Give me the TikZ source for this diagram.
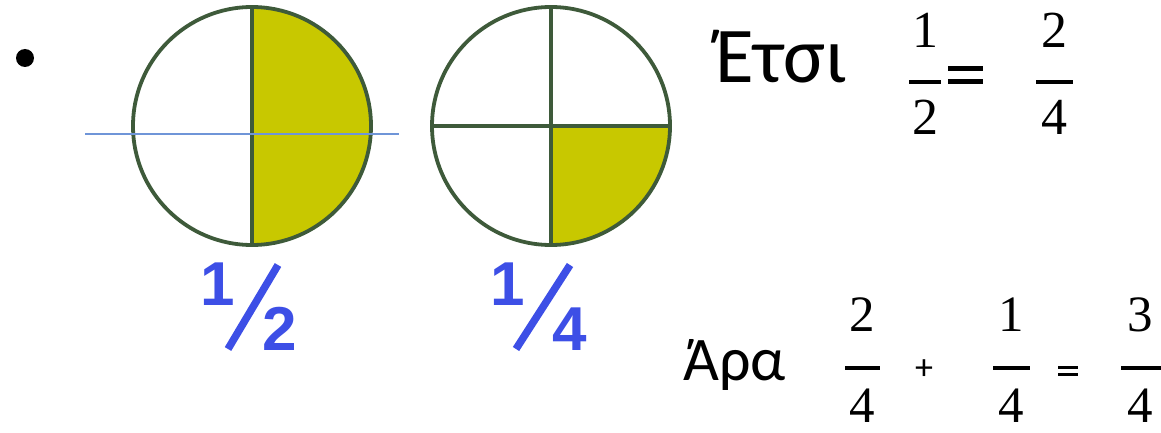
\documentclass[tikz,border=0pt]{standalone}
\usepackage{fontspec}
\newfontfamily\calfont{Carlito}
\newfontfamily\lblfont{Liberation Sans}
\newfontfamily\digfont{Liberation Serif}
\definecolor{ring}{HTML}{3E5A3A}
\definecolor{olive}{HTML}{C8C800}
\definecolor{lblblue}{HTML}{3D4FE6}
\definecolor{guide}{HTML}{6F95D8}
\tikzset{
  pie/.style={draw=ring, line width=3.8pt},
  lbl/.style={inner sep=0pt, text=lblblue, font=\lblfont\bfseries\fontsize{62}{62}\selectfont},
  slash/.style={draw=lblblue, line width=7.5pt},
  word/.style={inner sep=0pt, anchor=base west},
  dig/.style={inner sep=0pt, font=\digfont\fontsize{52}{52}\selectfont},
  sdig/.style={inner sep=0pt, font=\digfont\fontsize{51}{51}\selectfont},
  fbar/.style={line width=3.5pt},
}
\begin{document}
\begin{tikzpicture}[x=1pt,y=-1pt]
\useasboundingbox (0,0) rectangle (1161,433);
% bullet
\fill (25,58) circle (9);
% circle 1/2
\coordinate (c1) at (252,126);
\begin{scope}
  \clip (c1) circle (119);
  \fill[olive] (252,0) rectangle (380,250);
\end{scope}
\draw[pie] (c1) circle (119);
\draw[pie] (252,7) -- (252,245);
\draw[guide, line width=1.3pt] (85,134) -- (399,134);
% circle 1/4
\coordinate (c2) at (551,126);
\begin{scope}
  \clip (c2) circle (119);
  \fill[olive] (551,126) rectangle (680,250);
\end{scope}
\draw[pie] (c2) circle (119);
\draw[pie] (551,7) -- (551,245);
\draw[pie] (432,126) -- (670,126);
% labels
\node[lbl] (h1) at (218,284) {1};
\draw[slash] (228,349) -- (278,265);
\node[lbl] (h2) at (280,329) {2};
\node[lbl] (q1) at (508,284) {1};
\draw[slash] (516,349) -- (570,265);
\node[lbl] (q4) at (570,329) {4};
% first equation
\node[word, font=\calfont\fontsize{79}{79}\selectfont] (etsi) at (715,83) {Έτσι};
\node[dig] (n1) at (925,30) {1};
\draw[fbar] (909,82) -- (941,82);
\node[dig] (d1) at (925,117) {2};
\fill (948,66) rectangle (983,71);
\fill (948,79) rectangle (983,84);
\node[dig] (n2) at (1054,30) {2};
\draw[fbar] (1036,82) -- (1073,82);
\node[dig] (d2) at (1054,117) {4};
% second equation
\node[word, font=\calfont\fontsize{62}{62}\selectfont] (ara) at (683,380) {Άρα};
\node[sdig] (a1) at (862,315) {2};
\draw[fbar] (845,368) -- (880,368);
\node[sdig] (a2) at (862,406) {4};
\node[inner sep=0pt, font=\calfont\fontsize{36}{36}\selectfont] (plus) at (924,370) {+};
\node[sdig] (b1) at (1011,315) {1};
\draw[fbar] (993,368) -- (1030,368);
\node[sdig] (b2) at (1011,406) {4};
\fill (1058,366) rectangle (1078,368.5);
\fill (1058,373) rectangle (1078,375.5);
\node[sdig] (c3) at (1140,315) {3};
\draw[fbar] (1121,368) -- (1161,368);
\node[sdig] (c4) at (1140,406) {4};
\end{tikzpicture}
\end{document}
